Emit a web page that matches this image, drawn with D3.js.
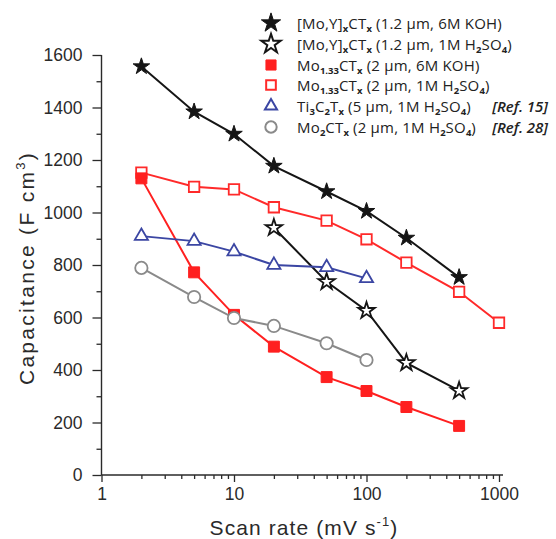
<!DOCTYPE html>
<html>
<head>
<meta charset="utf-8">
<script src="https://cdn.jsdelivr.net/npm/d3@7"></script>
<style>
  html, body { margin: 0; padding: 0; background: #fff; }
  svg { display: block; }
</style>
</head>
<body>
<svg id="chart" width="556" height="539"></svg>
<script>
// Scan rates (mV/s) and volumetric capacitance (F/cm3) per electrode
const scanMoYKOH = [2, 5, 10, 20, 50, 100, 200, 500];
const capMoYKOH = [1556, 1384, 1299, 1177, 1080, 1005, 903, 753];

const scanMoYH2SO4 = [20, 50, 100, 200, 500];
const capMoYH2SO4 = [942, 736, 626, 427, 321];

const scanMo133KOH = [2, 5, 10, 20, 50, 100, 200, 500];
const capMo133KOH = [1130, 772, 610, 489, 373, 320, 259, 187];

const scanMo133H2SO4 = [2, 5, 10, 20, 50, 100, 200, 500, 1000];
const capMo133H2SO4 = [1152, 1098, 1088, 1020, 969, 898, 809, 698, 580];

const scanTi3C2 = [2, 5, 10, 20, 50, 100];
const capTi3C2 = [910, 891, 851, 800, 791, 749];

const scanMo2C = [2, 5, 10, 20, 50, 100];
const capMo2C = [789, 678, 598, 568, 502, 438];

// Legend entries; "_{...}" marks a subscript
const legendLabels = [
  "[Mo,Y]_{x}CT_{x} (1.2 µm, 6M KOH)",
  "[Mo,Y]_{x}CT_{x} (1.2 µm, 1M H_{2}SO_{4})",
  "Mo_{1.33}CT_{x} (2 µm, 6M KOH)",
  "Mo_{1.33}CT_{x} (2 µm, 1M H_{2}SO_{4})",
  "Ti_{3}C_{2}T_{x} (5 µm, 1M H_{2}SO_{4})",
  "Mo_{2}CT_{x} (2 µm, 1M H_{2}SO_{4})"
];
const legendRefs = ["", "", "", "", "[Ref. 15]", "[Ref. 28]"];

// Axis ticks
const yTickValues = [0, 200, 400, 600, 800, 1000, 1200, 1400, 1600];
const yMinorValues = [100, 300, 500, 700, 900, 1100, 1300, 1500];
const xTickValues = [1, 10, 100, 1000];
const xTickLabels = ["1", "10", "100", "1000"];
const xMinorValues = [2, 3, 4, 5, 6, 7, 8, 9, 20, 30, 40, 50, 60, 70, 80, 90, 200, 300, 400, 500, 600, 700, 800, 900];

const series = [
  { xs: scanMoYKOH, ys: capMoYKOH, color: "#151515", symbol: d3.symbolStar, size: 85, filled: true },
  { xs: scanMoYH2SO4, ys: capMoYH2SO4, color: "#151515", symbol: d3.symbolStar, size: 85, filled: false },
  { xs: scanMo133H2SO4, ys: capMo133H2SO4, color: "#ff2a2a", symbol: d3.symbolSquare, size: 110, filled: false },
  { xs: scanMo133KOH, ys: capMo133KOH, color: "#ff2020", symbol: d3.symbolSquare, size: 120, filled: true },
  { xs: scanTi3C2, ys: capTi3C2, color: "#3b46a3", symbol: d3.symbolTriangle, size: 75, filled: false },
  { xs: scanMo2C, ys: capMo2C, color: "#8a8a8a", symbol: d3.symbolCircle, size: 120, filled: false }
];
// legend order differs from drawing order
const legendSeries = [series[0], series[1], series[3], series[2], series[4], series[5]];

const svg = d3.select("#chart");
const x = d3.scaleLog().domain([1, 1000]).range([101.5, 499]);
const y = d3.scaleLinear().domain([0, 1600]).range([475, 55]);

const axisColor = "#2a2a2a";
const axisFont = "'Liberation Sans', Arial, sans-serif";

// Y axis
const yAxis = svg.append("g").attr("transform", `translate(${x(1)},0)`)
  .call(d3.axisLeft(y).tickValues(yTickValues).tickSize(9).tickPadding(10).tickFormat(d3.format("d")));
yAxis.select(".domain").remove();
yAxis.selectAll(".tick line").attr("stroke", axisColor).attr("stroke-width", 1.3);
yAxis.selectAll(".tick text").attr("font-family", axisFont).attr("font-size", 17.5).attr("fill", axisColor);
const yMinor = svg.append("g").attr("transform", `translate(${x(1)},0)`)
  .call(d3.axisLeft(y).tickValues(yMinorValues).tickSize(5).tickFormat(""));
yMinor.select(".domain").remove();
yMinor.selectAll(".tick line").attr("stroke", axisColor).attr("stroke-width", 1.3);

// X axis
const xAxis = svg.append("g").attr("transform", `translate(0,${y(0)})`)
  .call(d3.axisBottom(x).tickValues(xTickValues).tickSize(7).tickPadding(6)
    .tickFormat((d, i) => xTickLabels[i]));
xAxis.select(".domain").remove();
xAxis.selectAll(".tick line").attr("stroke", axisColor).attr("stroke-width", 1.3);
xAxis.selectAll(".tick text").attr("font-family", axisFont).attr("font-size", 17.5).attr("fill", axisColor);
const xMinor = svg.append("g").attr("transform", `translate(0,${y(0)})`)
  .call(d3.axisBottom(x).tickValues(xMinorValues).tickSize(4).tickFormat(""));
xMinor.select(".domain").remove();
xMinor.selectAll(".tick line").attr("stroke", axisColor).attr("stroke-width", 1.3);

// Axis lines
svg.append("line").attr("x1", x(1)).attr("x2", x(1)).attr("y1", y(1600)).attr("y2", y(0))
  .attr("stroke", axisColor).attr("stroke-width", 1.4);
svg.append("line").attr("x1", x(1)).attr("x2", x(1000) + 4).attr("y1", y(0)).attr("y2", y(0))
  .attr("stroke", axisColor).attr("stroke-width", 1.4);

// Axis titles
const xt = svg.append("text").attr("x", 304).attr("y", 535).attr("text-anchor", "middle")
  .attr("font-family", axisFont).attr("font-size", 21).attr("letter-spacing", 1.1).attr("fill", axisColor);
xt.append("tspan").text("Scan rate (mV s");
xt.append("tspan").attr("dy", -9).attr("font-size", 13).text("-1");
xt.append("tspan").attr("dy", 9).text(")");

const yt = svg.append("text").attr("transform", "translate(34,268) rotate(-90)").attr("text-anchor", "middle")
  .attr("font-family", axisFont).attr("font-size", 21).attr("letter-spacing", 2.3).attr("fill", axisColor);
yt.append("tspan").text("Capacitance (F cm");
yt.append("tspan").attr("dy", -9).attr("font-size", 13).text("3");
yt.append("tspan").attr("dy", 9).text(")");

// Series lines and markers
const line = d3.line().x(d => x(d[0])).y(d => y(d[1]));
series.forEach(s => {
  const pts = s.xs.map((v, i) => [v, s.ys[i]]);
  svg.append("path").datum(pts).attr("d", line)
    .attr("fill", "none").attr("stroke", s.color).attr("stroke-width", 2);
});
series.forEach(s => {
  const pts = s.xs.map((v, i) => [v, s.ys[i]]);
  svg.append("g").selectAll("path").data(pts).join("path")
    .attr("transform", d => `translate(${x(d[0])},${y(d[1])})`)
    .attr("d", d3.symbol().type(s.symbol).size(s.size))
    .attr("fill", s.filled ? s.color : "#fff")
    .attr("stroke", s.color).attr("stroke-width", s.filled ? 1 : 1.8);
});

// Legend
const legendFont = "'Open Sans', 'Noto Sans', sans-serif";
const legendRows = [23, 44, 65, 85, 106, 127];
const legend = svg.append("g");
legendSeries.forEach((s, i) => {
  const ly = legendRows[i];
  const isStar = s.symbol === d3.symbolStar;
  legend.append("path")
    .attr("transform", `translate(271,${ly})`)
    .attr("d", d3.symbol().type(s.symbol).size(isStar ? 115 : s.size * 0.85))
    .attr("fill", s.filled ? s.color : "#fff")
    .attr("stroke", s.color).attr("stroke-width", s.filled ? 1 : 2);
  const t = legend.append("text").attr("x", 297).attr("y", ly + 5.5)
    .attr("font-family", legendFont).attr("font-size", 15).attr("fill", "#222");
  const parts = legendLabels[i].split(/(_\{[^}]*\})/).filter(p => p.length);
  let sub = false;
  parts.forEach(p => {
    if (p.startsWith("_{")) {
      t.append("tspan").attr("dy", 3).attr("font-size", 9.5).attr("font-weight", "bold").text(p.slice(2, -1));
      sub = true;
    } else {
      t.append("tspan").attr("dy", sub ? -3 : 0).attr("letter-spacing", 0.2).text(p);
      sub = false;
    }
  });
  if (legendRefs[i]) {
    legend.append("text").attr("x", 548).attr("y", ly + 5.5).attr("text-anchor", "end")
      .attr("font-family", legendFont).attr("font-size", 15).attr("font-style", "italic")
      .attr("font-weight", "600").attr("fill", "#222").text(legendRefs[i]);
  }
});
</script>
</body>
</html>
